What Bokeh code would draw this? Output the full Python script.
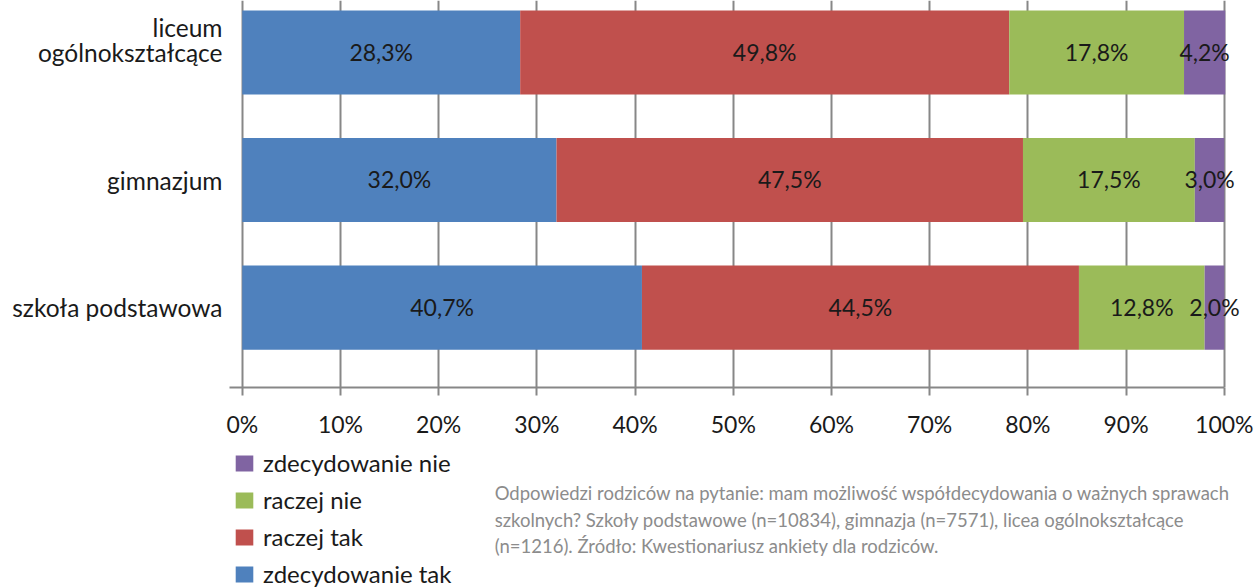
from bokeh.plotting import figure
from bokeh.layouts import column
from bokeh.models import (Range1d, FixedTicker, ColumnDataSource, LabelSet, Label,
                          Legend, LegendItem)
from bokeh.core.properties import value
from bokeh.embed import file_html
from bokeh.resources import INLINE

# ---- data ----
categories = ["szkoła podstawowa", "gimnazjum", "liceum\nogólnokształcące"]
zdecydowanie_tak = [40.7, 32.0, 28.3]
raczej_tak = [44.5, 47.5, 49.8]
raczej_nie = [12.8, 17.5, 17.8]
zdecydowanie_nie = [2.0, 3.0, 4.2]
series_names = ["zdecydowanie tak", "raczej tak", "raczej nie", "zdecydowanie nie"]
series_colors = ["#4F81BD", "#C0504D", "#9BBB59", "#8064A2"]
x_ticks = [0, 10, 20, 30, 40, 50, 60, 70, 80, 90, 100]
x_tick_labels = ["0%", "10%", "20%", "30%", "40%", "50%", "60%", "70%", "80%", "90%", "100%"]
caption_lines = [
    "Odpowiedzi rodziców na pytanie: mam możliwość współdecydowania o ważnych sprawach",
    "szkolnych? Szkoły podstawowe (n=10834), gimnazja (n=7571), licea ogólnokształcące",
    "(n=1216). Źródło: Kwestionariusz ankiety dla rodziców.",
]

FONT = "Lato"
TXT = "#1a1a1a"
GRID = "#878787"
W = 1257
H_TOP = 445
H_BOT = 588 - H_TOP
B_LEFT = 229
B_RIGHT = 12

ypos = list(range(len(categories)))
series = [zdecydowanie_tak, raczej_tak, raczej_nie, zdecydowanie_nie]
data = {"y": ypos}
for name, vals in zip(series_names, series):
    data[name] = vals
source = ColumnDataSource(data)

xr = Range1d(-1.3, 102.16)
p = figure(width=W, height=H_TOP,
           x_range=xr, y_range=Range1d(-0.627, 2.408),
           output_backend="svg", toolbar_location=None,
           min_border_left=B_LEFT, min_border_right=B_RIGHT,
           min_border_top=0, min_border_bottom=58)
p.outline_line_color = None

# grid
p.ygrid.grid_line_color = None
p.xgrid.ticker = FixedTicker(ticks=x_ticks)
p.xgrid.grid_line_color = GRID
p.xgrid.grid_line_width = 2

renderers = p.hbar_stack(series_names, y="y", height=0.66, color=series_colors,
                         line_color=None, source=source)

# segment labels
lx, ly, lt = [], [], []
for i in range(len(categories)):
    left = 0.0
    for vals in series:
        v = vals[i]
        lx.append(left + v / 2.0)
        ly.append(ypos[i])
        lt.append(("%.1f" % v).replace(".", ",") + "%")
        left += v
lab_src = ColumnDataSource(dict(x=lx, y=ly, t=lt))
p.add_layout(LabelSet(x="x", y="y", text="t", source=lab_src,
                      text_align="center", text_baseline="middle", y_offset=1,
                      text_font=value(FONT), text_font_size=value("23px"),
                      text_color=TXT))

# x axis
xa = p.xaxis[0]
xa.ticker = FixedTicker(ticks=x_ticks)
xa.bounds = (-1.3, 100)
xa.major_label_overrides = {t: l for t, l in zip(x_ticks, x_tick_labels)}
xa.axis_line_color = GRID
xa.axis_line_width = 2
xa.major_tick_line_color = GRID
xa.major_tick_line_width = 2
xa.major_tick_out = 8
xa.major_tick_in = 0
xa.minor_tick_line_color = None
xa.major_label_text_font = FONT
xa.major_label_text_font_size = "23px"
xa.major_label_text_color = TXT
xa.major_label_standoff = 14

# y axis (two-line label sits slightly above its bar, as in the reference)
y_tick_pos = [0, 1, 2.1]
ya = p.yaxis[0]
ya.ticker = FixedTicker(ticks=y_tick_pos)
ya.major_label_overrides = {t: l for t, l in zip(y_tick_pos, categories)}
ya.axis_line_color = None
ya.major_tick_line_color = None
ya.major_tick_out = 0
ya.major_tick_in = 0
ya.minor_tick_line_color = None
ya.major_label_text_font = FONT
ya.major_label_text_font_size = "24.5px"
ya.major_label_text_line_height = 0.85
ya.major_label_text_color = TXT
ya.major_label_standoff = 7

# ---- bottom strip: legend + caption (frame aligned with the chart above) ----
q = figure(width=W, height=H_BOT, x_range=xr, y_range=Range1d(0, H_BOT),
           x_axis_type=None, y_axis_type=None, output_backend="svg",
           toolbar_location=None, min_border_left=B_LEFT,
           min_border_right=B_RIGHT, min_border_top=0, min_border_bottom=0)
q.outline_line_color = None
q.xgrid.visible = False
q.ygrid.visible = False

nan = float("nan")
proxies = [q.hbar(y=[nan], right=[nan], height=1, color=c, line_color=None)
           for c in series_colors]
order = [3, 2, 1, 0]
items = [LegendItem(label=series_names[k], renderers=[proxies[k]]) for k in order]
legend = Legend(items=items, location=(4, 0), orientation="vertical",
                glyph_width=22, glyph_height=20, label_standoff=8,
                label_height=26, spacing=8, padding=0, margin=0,
                border_line_color=None, background_fill_alpha=0,
                label_text_font=FONT, label_text_font_size="24px",
                label_text_color=TXT)
q.add_layout(legend)

cap_y = [H_BOT - 47, H_BOT - 74, H_BOT - 100]
for line, yy in zip(caption_lines, cap_y):
    q.add_layout(Label(x=25.7, y=yy, text=line, text_font=FONT,
                       text_font_size="18.5px", text_color="#8c8c8c",
                       text_baseline="middle", text_align="left"))

layout = column(p, q, spacing=0)
open("out.html", "w").write(file_html(layout, INLINE))
